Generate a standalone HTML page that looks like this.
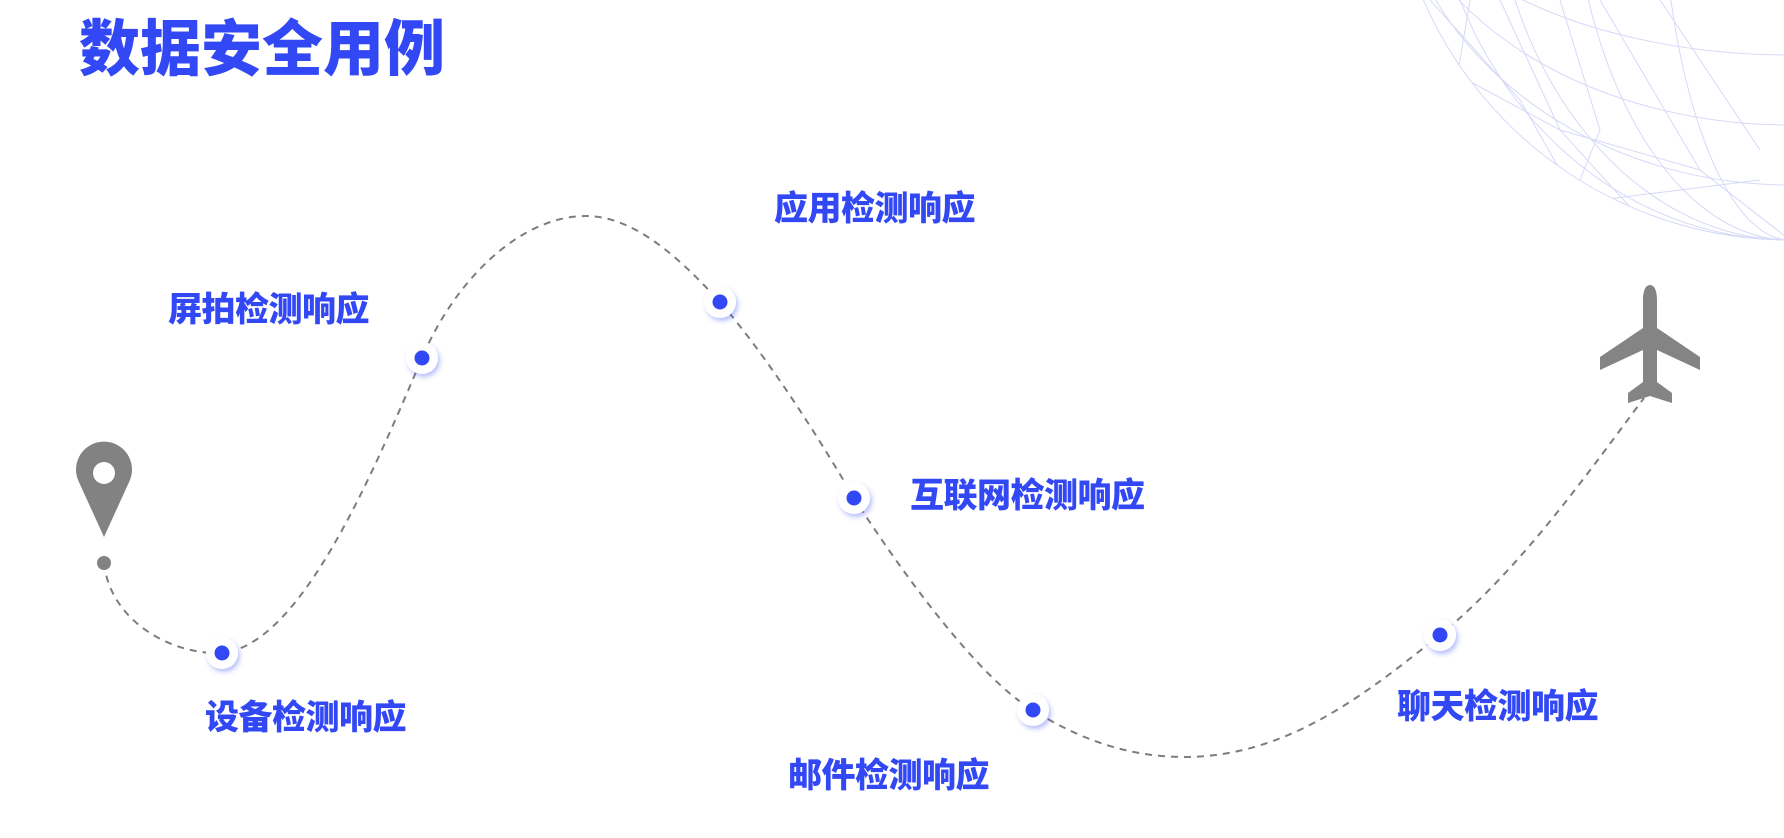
<!DOCTYPE html>
<html><head><meta charset="utf-8"><style>
html,body{margin:0;padding:0;background:#fff;}
body{width:1784px;height:838px;position:relative;overflow:hidden;font-family:"Liberation Sans","Noto Sans CJK SC",sans-serif;}
.t{position:absolute;color:#3348f5;font-weight:900;white-space:nowrap;line-height:1;}
.lbl{font-size:34px;letter-spacing:-0.5px;}
</style></head><body>
<svg width="1784" height="838" style="position:absolute;left:0;top:0">
<defs>
<filter id="sh" x="-50%" y="-50%" width="200%" height="200%"><feDropShadow dx="2" dy="3" stdDeviation="2.5" flood-color="#3348f5" flood-opacity="0.35"/></filter>
<clipPath id="gc"><circle cx="1790" cy="-160" r="400"/></clipPath>
</defs>
<g stroke="#d6d9f7" stroke-width="1" fill="none">
<circle cx="1790" cy="-160" r="400"/>
<g clip-path="url(#gc)">
<ellipse cx="1790" cy="-160" rx="360" ry="400"/>
<ellipse cx="1790" cy="-160" rx="300" ry="400"/>
<ellipse cx="1790" cy="-160" rx="220" ry="400"/>
<ellipse cx="1790" cy="-160" rx="130" ry="400"/>
<ellipse cx="1790" cy="-160" rx="400" ry="215"/>
<ellipse cx="1790" cy="-160" rx="400" ry="285"/>
<ellipse cx="1790" cy="-160" rx="400" ry="345"/>
<ellipse cx="1790" cy="-160" rx="400" ry="140"/>
<path d="M1430,0 L1520,100 L1600,240 M1500,0 L1560,130 L1660,240 M1430,60 L1560,130 L1700,170 M1480,160 L1600,200 L1760,180 M1600,0 L1700,170 L1790,240 M1470,0 L1450,120 M1560,0 L1600,130 L1560,230 M1660,0 L1760,150"/>
</g>
</g>
<path d="M104,563 C110,620 170,655 222,653 C300,645 370,480 422,358 C455,280 520,216 586,216 C640,216 690,270 720,302 C770,360 820,440 854,498 C900,570 980,680 1033,710 C1080,740 1130,757 1184,757 C1290,757 1370,690 1440,635 C1520,570 1590,470 1644,398" stroke="#7d7d7d" stroke-width="2" fill="none" stroke-dasharray="7,6"/>
<path d="M104,537 L78,480 A28,28 0 1 1 130,480 Z" fill="#828282"/>
<circle cx="104" cy="473" r="11" fill="#fff"/>
<circle cx="104" cy="563" r="7" fill="#828282"/>
<path d="M1650,285 C1645,285 1643,292 1643,300 L1643,328 L1600,357 L1600,370 L1643,350 L1643,382 L1628,393 L1628,403 L1650,396 L1672,403 L1672,393 L1657,382 L1657,350 L1700,370 L1700,357 L1657,328 L1657,300 C1657,292 1655,285 1650,285 Z" fill="#848484"/>
<g filter="url(#sh)" fill="#fff">
<circle cx="222" cy="653" r="16"/><circle cx="422" cy="358" r="16"/><circle cx="720" cy="302" r="16"/>
<circle cx="854" cy="498" r="16"/><circle cx="1033" cy="710" r="16"/><circle cx="1440" cy="635" r="16"/>
</g>
<g fill="#3348f5">
<circle cx="222" cy="653" r="7.5"/><circle cx="422" cy="358" r="7.5"/><circle cx="720" cy="302" r="7.5"/>
<circle cx="854" cy="498" r="7.5"/><circle cx="1033" cy="710" r="7.5"/><circle cx="1440" cy="635" r="7.5"/>
</g>
</svg>
<div class="t" style="left:79px;top:19px;font-size:61px;">数据安全用例</div>
<div class="t lbl" style="left:168px;top:293px;">屏拍检测响应</div>
<div class="t lbl" style="left:774px;top:192px;">应用检测响应</div>
<div class="t lbl" style="left:910px;top:479px;">互联网检测响应</div>
<div class="t lbl" style="left:205px;top:701px;">设备检测响应</div>
<div class="t lbl" style="left:788px;top:759px;">邮件检测响应</div>
<div class="t lbl" style="left:1397px;top:690px;">聊天检测响应</div>
</body></html>
